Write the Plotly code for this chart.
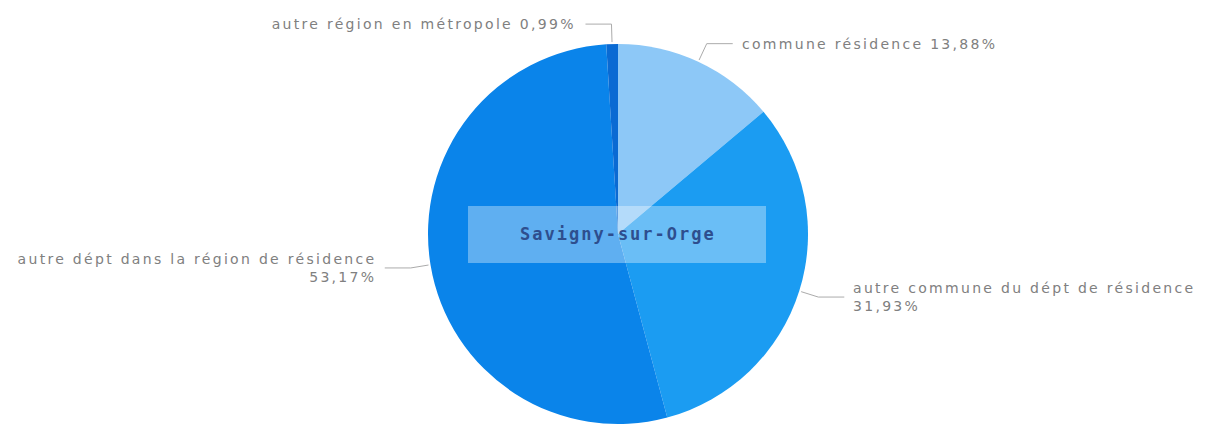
import math
import plotly.graph_objects as go

# Données
labels = ['commune résidence', 'autre commune du dépt de résidence',
          'autre dépt dans la région de résidence', 'autre région en métropole']
values = [13.88, 31.93, 53.17, 0.99]
colors = ['#8DC8F7', '#1B9CF2', '#0A84EA', '#0A6AD3']
titre_centre = 'Savigny-sur-Orge'

W, H = 1209, 426
cx, cy, r = 618, 234, 190

fig = go.Figure()
fig.add_trace(go.Pie(
    labels=labels, values=values, sort=False, direction='clockwise', rotation=0,
    marker=dict(colors=colors, line=dict(width=0)),
    textinfo='none', hoverinfo='label+percent', showlegend=False,
    domain=dict(x=[(cx - r) / W, (cx + r) / W], y=[1 - (cy + r) / H, 1 - (cy - r) / H]),
))

# Étiquettes avec lignes de rappel, placées selon l'angle milieu de chaque part
total = sum(values)
cum = 0
shapes = []
annotations = []
for lab, v in zip(labels, values):
    mid = (cum + v / 2) / total * 2 * math.pi
    cum += v
    sx, sy = math.sin(mid), -math.cos(mid)
    p0 = (cx + (r + 2) * sx, cy + (r + 2) * sy)
    p1 = (cx + (r + 20) * sx, cy + (r + 20) * sy)
    side = 1 if sx > 0.05 else -1
    p2 = (p1[0] + side * 26, p1[1])
    pct = f"{v:.2f}".replace('.', ',') + '%'
    if abs(sy) > 0.8:
        txt = f"{lab} {pct}"
    else:
        txt = f"{lab}<br>{pct}"
    shapes.append(dict(type='path', xref='x', yref='y',
                       path=f"M{p0[0]},{p0[1]} L{p1[0]},{p1[1]} L{p2[0]},{p2[1]}",
                       line=dict(color='#ABABAB', width=1)))
    annotations.append(dict(x=p2[0] + side * 7, y=p2[1], xref='x', yref='y',
                            text=txt, showarrow=False,
                            xanchor='left' if side > 0 else 'right',
                            align='left' if side > 0 else 'right',
                            font=dict(family='DejaVu Sans', size=14, color='#808080')))

# Bandeau central
shapes.append(dict(type='rect', xref='x', yref='y', x0=468, x1=766, y0=206, y1=263,
                   fillcolor='rgba(255,255,255,0.35)', line=dict(width=0), layer='above'))
annotations.append(dict(x=cx, y=234, xref='x', yref='y', text=f"<b>{titre_centre}</b>",
                        showarrow=False, align='center',
                        font=dict(family='DejaVu Sans Mono', size=17, color='#2E4E8E')))

fig.update_layout(
    width=W, height=H, margin=dict(l=0, r=0, t=0, b=0),
    paper_bgcolor='white', plot_bgcolor='rgba(0,0,0,0)',
    xaxis=dict(range=[0, W], visible=False, fixedrange=True),
    yaxis=dict(range=[H, 0], visible=False, fixedrange=True),
    shapes=shapes, annotations=annotations,
)

# pas de marge de page, texte un peu espacé comme l'original
post = """
document.body.style.margin = '0';
document.querySelectorAll('.annotation-text').forEach(function(t, i, all) {
    t.style.letterSpacing = (i === all.length - 1) ? '2px' : '2.3px';
});
"""
fig.write_html("out.html", post_script=post, config={'displayModeBar': False})
